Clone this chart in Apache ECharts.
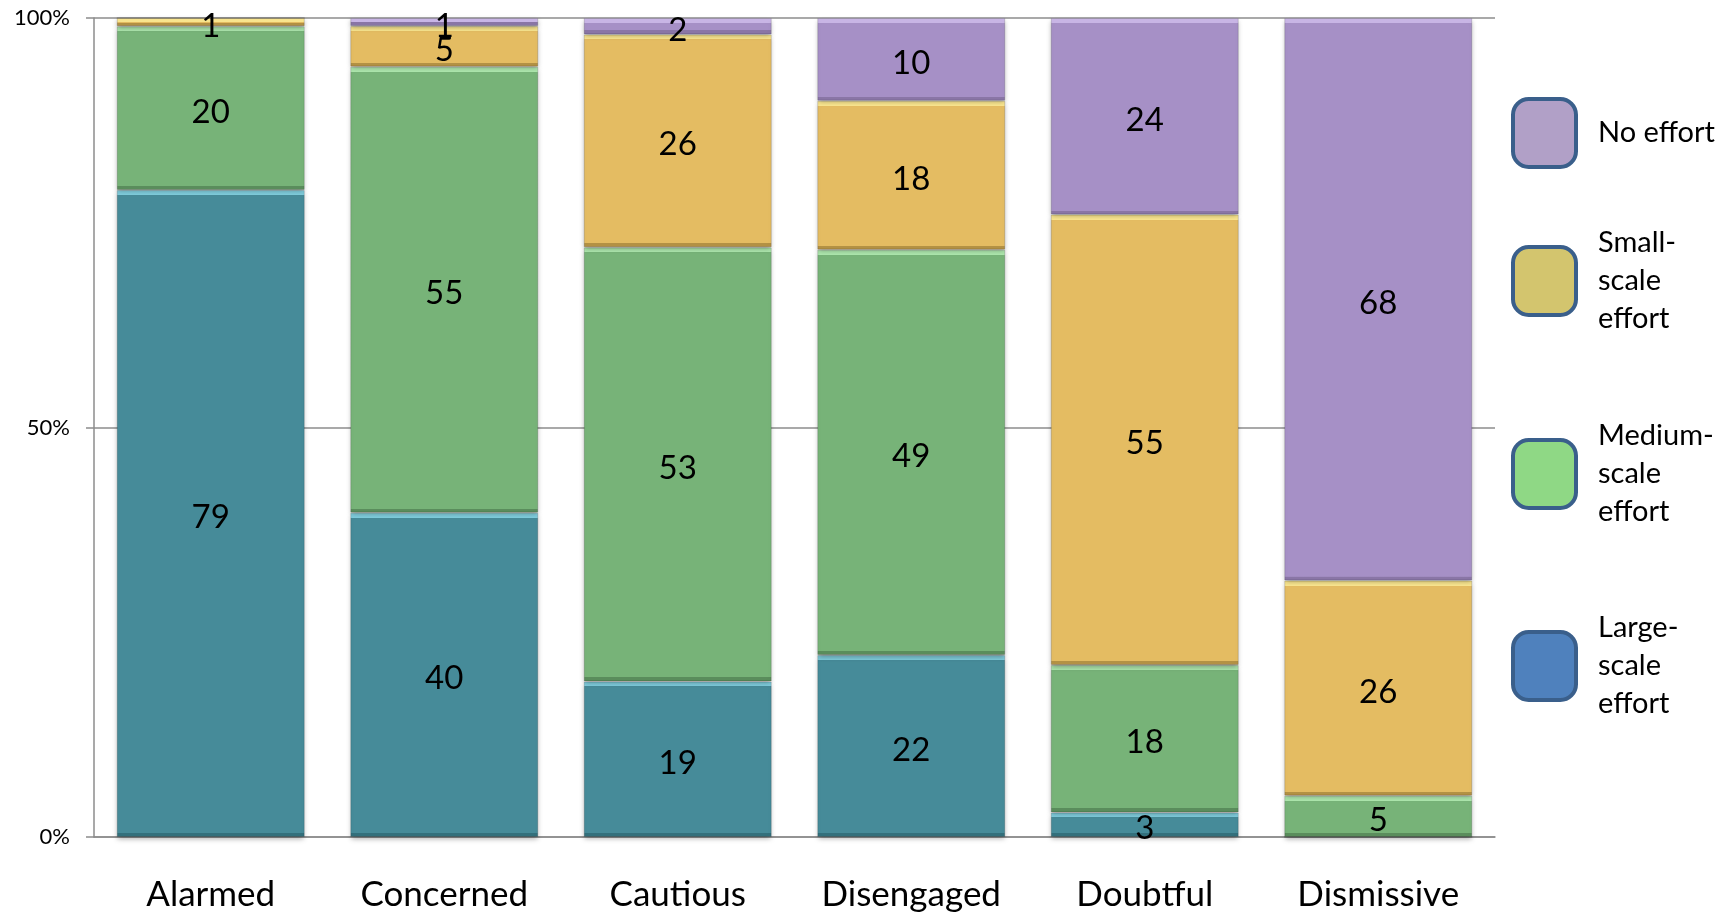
<!DOCTYPE html>
<html style="height: 100%">
<head>
  <meta charset="utf-8">
</head>
<body style="height: 100%; margin: 0">
  <div id="container" style="width: 1735px; height: 915px"></div>
  <script src="https://cdn.jsdelivr.net/npm/echarts@6/dist/echarts.min.js"></script>
  <script type="text/javascript">
    // segments of each column
    var categories = ['Alarmed', 'Concerned', 'Cautious', 'Disengaged', 'Doubtful', 'Dismissive'];
    var largeScale = [79, 40, 19, 22, 3, 0];
    var mediumScale = [20, 55, 53, 49, 18, 5];
    var smallScale = [1, 5, 26, 18, 55, 26];
    var noEffort = [0, 1, 2, 10, 24, 68];
    var yTicks = [0, 50, 100];

    var names = ['Large-scale effort', 'Medium-scale effort', 'Small-scale effort', 'No effort'];
    var barColors = ['#468b99', '#77b378', '#e4bc62', '#a690c6'];
    var lightEdge = ['#80cddd', '#aee8ae', '#fbe790', '#c9b6e6'];
    var darkEdge = ['#33707c', '#5a8d5c', '#b39144', '#8a76a6'];
    var legendColors = ['#4f81bd', '#8fd885', '#d3c56e', '#b1a0c7'];
    var legendText = {
      'No effort': 'No effort',
      'Small-scale effort': 'Small-\nscale\neffort',
      'Medium-scale effort': 'Medium-\nscale\neffort',
      'Large-scale effort': 'Large-\nscale\neffort'
    };
    // top of each legend entry (one legend per entry so the spacing matches)
    var legendTops = [609, 417, 224, 97];

    var allSeries = [largeScale, mediumScale, smallScale, noEffort];
    // column totals, so the stack fills 100%
    var totals = categories.map(function (c, i) {
      return allSeries.reduce(function (s, arr) { return s + arr[i]; }, 0);
    });

    var FONT = 'Lato';
    var PLOT_H = 915 - 18 - 78;

    // bevel look: light band on top, dark band at the bottom of each segment
    function bevel(k, pct) {
      var h = Math.max(pct / 100 * PLOT_H, 1);
      var a = Math.min(5 / h, 0.45), b = Math.min(4 / h, 0.45);
      return new echarts.graphic.LinearGradient(0, 0, 0, 1, [
        { offset: 0, color: lightEdge[k] },
        { offset: a, color: lightEdge[k] },
        { offset: a + 0.0001, color: barColors[k] },
        { offset: 1 - b - 0.0001, color: barColors[k] },
        { offset: 1 - b, color: darkEdge[k] },
        { offset: 1, color: darkEdge[k] }
      ]);
    }

    var series = allSeries.map(function (arr, k) {
      return {
        name: names[k],
        type: 'bar',
        stack: 'all',
        barCategoryGap: '19.5%',
        itemStyle: {
          color: barColors[k],
          borderColor: 'rgba(0,0,0,0.15)',
          borderWidth: 1,
          shadowBlur: 5,
          shadowOffsetY: 2,
          shadowColor: 'rgba(0,0,0,0.3)'
        },
        label: {
          show: true,
          position: 'inside',
          offset: [0, 4],
          color: '#000',
          fontFamily: FONT,
          fontSize: 33,
          formatter: function (p) { return p.data.raw ? p.data.raw : ''; }
        },
        data: arr.map(function (v, i) {
          var pct = v / totals[i] * 100;
          return { value: pct, raw: v, itemStyle: { color: bevel(k, pct) } };
        })
      };
    });

    var legends = [3, 2, 1, 0].map(function (k) {
      return {
        orient: 'vertical',
        left: 1511,
        top: legendTops[k],
        padding: 0,
        itemWidth: 63,
        itemHeight: 68,
        icon: 'roundRect',
        selectedMode: false,
        data: [{
          name: names[k],
          itemStyle: { color: legendColors[k], borderColor: '#3a5f8b', borderWidth: 4 }
        }],
        formatter: function (n) { return legendText[n]; },
        textStyle: {
          fontFamily: FONT,
          fontSize: 29,
          lineHeight: 38,
          color: '#000',
          padding: [0, 0, 0, 17]
        }
      };
    });

    var myChart = echarts.init(document.getElementById('container'));
    var option = {
      animation: false,
      backgroundColor: '#fff',
      grid: { left: 94, right: 240, top: 18, bottom: 78 },
      legend: legends,
      xAxis: {
        type: 'category',
        data: categories,
        axisLine: { lineStyle: { color: '#8c8c8c', width: 1.5 } },
        axisTick: { length: 11, lineStyle: { color: '#8c8c8c', width: 1.5 } },
        axisLabel: { color: '#000', fontFamily: FONT, fontSize: 35, margin: 40 }
      },
      yAxis: {
        type: 'value',
        min: yTicks[0],
        max: yTicks[yTicks.length - 1],
        interval: yTicks[1] - yTicks[0],
        axisLine: { show: true, lineStyle: { color: '#8c8c8c', width: 1.5 } },
        axisTick: { show: true, length: 8, lineStyle: { color: '#8c8c8c', width: 1.5 } },
        splitLine: { lineStyle: { color: '#8c8c8c', width: 1.5 } },
        axisLabel: { color: '#000', fontFamily: FONT, fontSize: 22, margin: 24, formatter: '{value}%' }
      },
      series: series
    };
    myChart.setOption(option);
  </script>
</body>
</html>
